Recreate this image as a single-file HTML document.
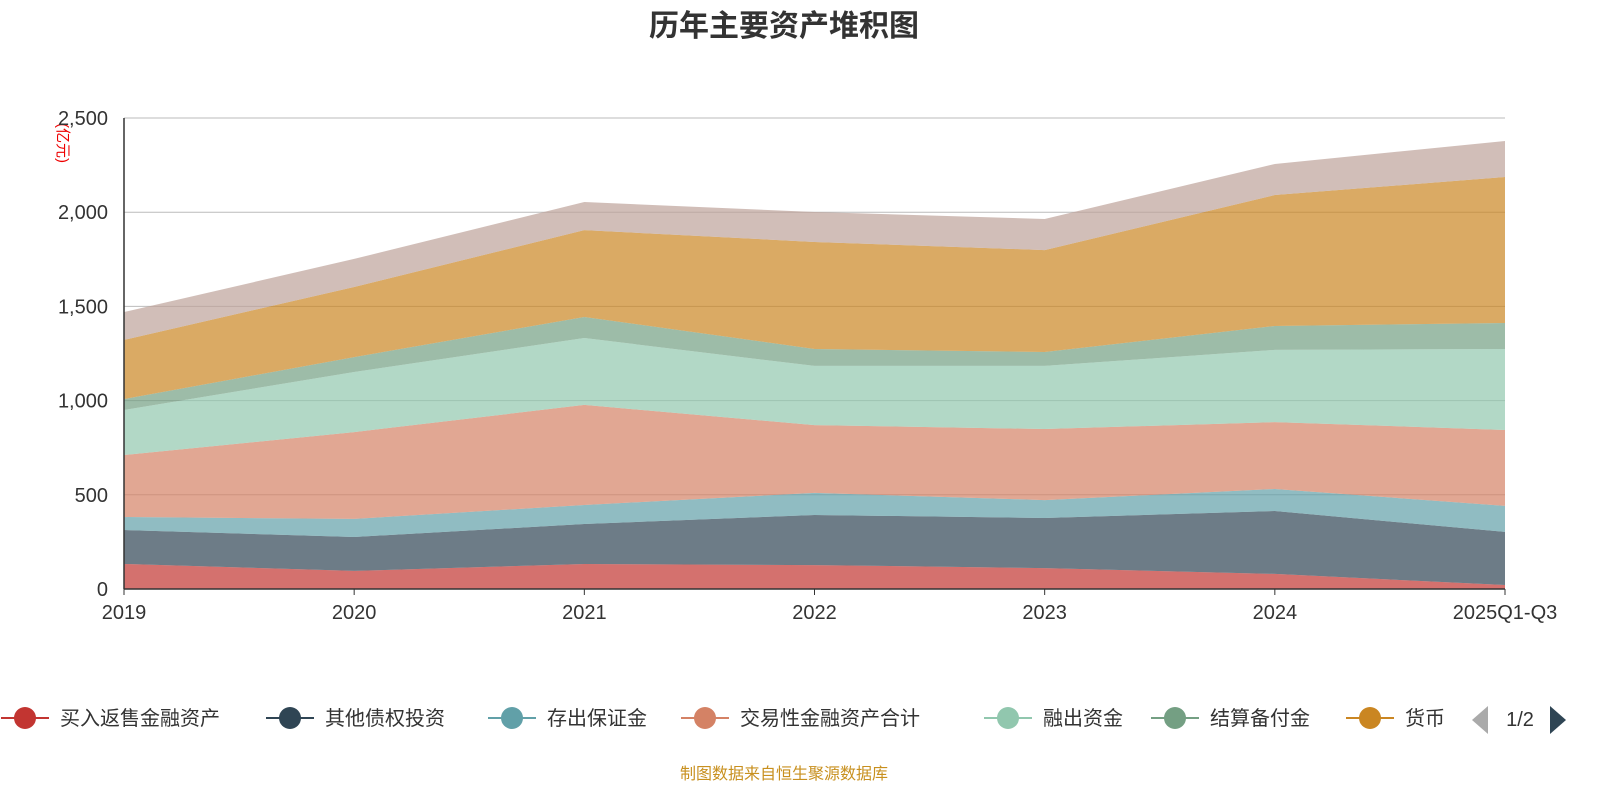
<!DOCTYPE html>
<html><head><meta charset="utf-8"><style>
html,body{margin:0;padding:0;background:#fff;}
svg text{font-family:"Liberation Sans","Noto Sans CJK SC",sans-serif;}
</style></head><body>
<svg id="chart" width="1600" height="800" viewBox="0 0 1600 800">
<text x="784" y="36" text-anchor="middle" font-size="30" font-weight="bold" fill="#333">历年主要资产堆积图</text>
<text transform="translate(58,143) rotate(90)" text-anchor="middle" font-size="15" fill="#e00">(亿元)</text>
<g id="grid"></g><g id="areas"></g><g id="axes"></g><g id="legend"></g>
<text x="784" y="779" text-anchor="middle" font-size="16" fill="#c8901f">制图数据来自恒生聚源数据库</text>
</svg>
<script>
const categories=["2019","2020","2021","2022","2023","2024","2025Q1-Q3"];
const seriesNames=["买入返售金融资产","其他债权投资","存出保证金","交易性金融资产合计","融出资金","结算备付金","货币","其他"];
const s1=[133,96,133,127,111,80,21];
const s2=[180,180,212,266,266,334,282];
const s3=[69,96,101,117,95,117,138];
const s4=[329,461,531,360,377,355,403];
const s5=[239,319,355,314,335,383,430];
const s6=[58,79,112,90,74,127,138];
const s7=[314,372,461,568,541,695,775];
const s8=[148,149,149,159,165,165,191];
const yTicks=[0,500,1000,1500,2000,2500];
const yTickLabels=["0","500","1,000","1,500","2,000","2,500"];
const seriesData=[s1,s2,s3,s4,s5,s6,s7,s8];
const colors=["#c23531","#2f4554","#61a0a8","#d48265","#91c7ae","#749f83","#ca8622","#bda29a"];
const NS="http://www.w3.org/2000/svg";
const x0=124,x1=1505,y0=589,yTop=118,yMax=2500;
const xs=i=>x0+(x1-x0)*i/(categories.length-1);
const ys=v=>y0-(y0-yTop)*v/yMax;
function mk(t,a,p){const e=document.createElementNS(NS,t);for(const k in a)e.setAttribute(k,a[k]);p.appendChild(e);return e;}
const grid=document.getElementById('grid'),axes=document.getElementById('axes'),areas=document.getElementById('areas'),legend=document.getElementById('legend');
yTicks.forEach((v,i)=>{
  if(v>0){const l=mk('line',{x1:x0,x2:x1,y1:ys(v),y2:ys(v),stroke:'#bbb','stroke-width':1},grid);
  
  }
  const t=mk('text',{x:108,y:ys(v)+7,'text-anchor':'end','font-size':20,fill:'#333'},axes);t.textContent=yTickLabels[i];
  
  
});
let cum=categories.map(()=>0);
seriesData.forEach((d,si)=>{
  const lo=cum.slice();cum=cum.map((c,i)=>c+d[i]);
  let p='M'+cum.map((v,i)=>xs(i)+','+ys(v)).join(' L');
  for(let i=lo.length-1;i>=0;i--)p+=' L'+xs(i)+','+ys(lo[i]);
  const a=mk('path',{d:p+'Z',fill:colors[si],'fill-opacity':0.7,stroke:'none'},areas);
  
  
});
const ya=mk('line',{x1:x0,x2:x0,y1:yTop,y2:y0,stroke:'#333','stroke-width':1.5},axes);


const xa=mk('line',{x1:x0,x2:x1,y1:y0,y2:y0,stroke:'#333','stroke-width':1.5},axes);


categories.forEach((c,i)=>{
  mk('line',{x1:xs(i),x2:xs(i),y1:y0,y2:y0+6,stroke:'#333'},axes);
  const t=mk('text',{x:xs(i),y:619,'text-anchor':'middle','font-size':20,fill:'#333'},axes);t.textContent=c;
  
  
});
const lx=[25,290,512,705,1008,1175,1370];
lx.forEach((x,i)=>{
  const g=mk('g',{},legend);
  
  
  mk('line',{x1:x-24,x2:x+24,y1:718,y2:718,stroke:colors[i],'stroke-width':2},g);
  mk('circle',{cx:x,cy:718,r:11,fill:colors[i]},g);
  const t=mk('text',{x:x+35,y:725,'font-size':20,fill:'#333'},g);t.textContent=seriesNames[i];
});
const pl=mk('path',{d:'M1472,720 L1488,706 L1488,734Z',fill:'#aaa'},legend);


const pt=mk('text',{x:1520,y:726,'text-anchor':'middle','font-size':20,fill:'#333'},legend);pt.textContent='1/2';


const pn=mk('path',{d:'M1566,720 L1550,706 L1550,734Z',fill:'#2f4554'},legend);


</script>
</body></html>
